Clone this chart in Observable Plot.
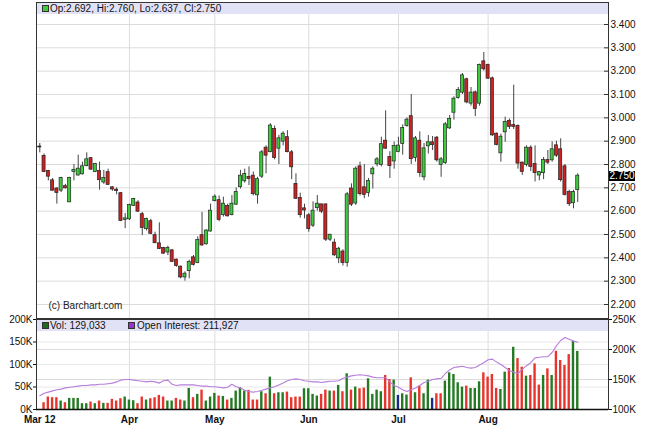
<!DOCTYPE html>
<html><head><meta charset="utf-8">
<script src="https://cdn.jsdelivr.net/npm/d3@7"></script>
<script src="https://cdn.jsdelivr.net/npm/@observablehq/plot@0.6"></script>
<style>
body{margin:0;background:#fff;}
#wrap{position:relative;width:645px;height:428px;overflow:hidden;font-family:"Liberation Sans",Arial,sans-serif;font-size:10px;color:#111;}
#topPanel,#botPanel{position:absolute;left:0;}
#botPanel{top:318px;}
.band{position:absolute;left:37px;width:571px;height:11px;background:#e2e2f6;line-height:11px;white-space:nowrap;}
.sw{position:absolute;top:2px;width:5px;height:5px;border:1px solid #333;}
.lab{position:absolute;top:0;}
#pbox{position:absolute;left:609px;width:26px;height:10px;background:#000;color:#fff;line-height:10px;text-align:center;font-size:10px;}
.bot g[aria-label="x-axis tick label"] text{font-weight:bold;}
</style></head>
<body><div id="wrap"><div id="topPanel"></div><div id="botPanel"></div></div>
<script>
// ---- data (trading days from early March to end of August 2012) ----
const open = [2.875,2.835,2.770,2.730,2.695,2.690,2.705,2.640,2.770,2.755,
 2.760,2.795,2.825,2.770,2.770,2.725,2.765,2.700,2.690,2.675,
 2.565,2.567,2.625,2.635,2.585,2.525,2.555,2.495,2.460,2.440,
 2.425,2.430,2.390,2.360,2.318,2.345,2.400,2.380,2.495,2.460,
 2.515,2.645,2.645,2.585,2.620,2.585,2.630,2.705,2.730,2.745,
 2.750,2.670,2.750,2.870,2.855,2.950,2.870,2.900,2.915,2.850,
 2.715,2.655,2.610,2.580,2.540,2.615,2.627,2.627,2.480,2.463,
 2.400,2.425,2.380,2.695,2.635,2.790,2.700,2.680,2.760,2.803,
 2.800,2.900,2.830,2.815,2.856,2.890,2.967,3.005,2.830,2.900,
 2.747,2.880,2.893,2.913,2.800,2.808,2.957,3.024,3.087,3.110,
 3.163,3.063,3.107,3.063,3.240,3.225,3.167,2.930,2.850,2.940,
 2.985,2.967,2.963,2.806,2.800,2.870,2.800,2.755,2.765,2.817,
 2.820,2.880,2.863,2.790,2.680,2.636,2.692];
const high = [2.890,2.845,2.775,2.740,2.700,2.745,2.715,2.745,2.800,2.840,
 2.810,2.850,2.830,2.805,2.810,2.775,2.780,2.705,2.700,2.680,
 2.590,2.630,2.655,2.645,2.595,2.570,2.565,2.510,2.550,2.445,
 2.450,2.435,2.395,2.365,2.340,2.390,2.410,2.490,2.595,2.520,
 2.630,2.670,2.665,2.660,2.630,2.667,2.700,2.775,2.780,2.790,
 2.768,2.745,2.860,2.880,2.975,2.965,2.925,2.940,2.945,2.860,
 2.760,2.677,2.630,2.590,2.640,2.667,2.630,2.630,2.500,2.480,
 2.445,2.435,2.680,2.717,2.790,2.810,2.800,2.740,2.790,2.830,
 2.917,3.030,2.855,2.896,2.917,2.970,3.000,3.100,2.920,2.940,
 2.890,2.924,2.920,2.920,2.830,2.980,3.010,3.090,3.130,3.190,
 3.170,3.130,3.115,3.230,3.280,3.230,3.175,2.935,2.930,3.003,
 2.995,3.140,2.970,2.810,2.880,2.880,2.880,2.770,2.830,2.860,
 2.897,2.900,2.910,2.800,2.690,2.690,2.760];
const low = [2.850,2.765,2.730,2.685,2.630,2.680,2.695,2.640,2.730,2.750,
 2.755,2.790,2.775,2.765,2.690,2.715,2.710,2.685,2.670,2.555,
 2.525,2.560,2.620,2.595,2.495,2.515,2.500,2.460,2.435,2.415,
 2.410,2.380,2.360,2.310,2.300,2.310,2.365,2.375,2.450,2.455,
 2.510,2.640,2.555,2.575,2.575,2.580,2.625,2.695,2.720,2.710,
 2.665,2.630,2.740,2.760,2.850,2.820,2.800,2.880,2.850,2.735,
 2.650,2.570,2.567,2.510,2.530,2.600,2.590,2.470,2.470,2.405,
 2.375,2.365,2.360,2.620,2.625,2.665,2.653,2.660,2.695,2.790,
 2.790,2.865,2.740,2.780,2.850,2.840,2.960,2.800,2.810,2.745,
 2.730,2.845,2.860,2.810,2.745,2.800,2.950,2.990,3.080,3.100,
 3.060,3.050,3.005,3.050,3.200,3.165,2.920,2.880,2.810,2.895,
 2.950,2.950,2.780,2.753,2.790,2.770,2.725,2.730,2.735,2.800,
 2.810,2.830,2.725,2.665,2.620,2.610,2.637];
const close = [2.875,2.770,2.750,2.690,2.680,2.740,2.700,2.740,2.775,2.780,
 2.790,2.820,2.780,2.800,2.735,2.740,2.715,2.695,2.688,2.560,
 2.567,2.625,2.650,2.600,2.530,2.565,2.505,2.465,2.440,2.420,
 2.440,2.385,2.367,2.318,2.330,2.380,2.372,2.475,2.455,2.515,
 2.600,2.660,2.565,2.630,2.580,2.630,2.680,2.750,2.757,2.740,
 2.675,2.735,2.850,2.840,2.965,2.830,2.910,2.930,2.855,2.790,
 2.655,2.585,2.605,2.525,2.600,2.630,2.600,2.480,2.497,2.413,
 2.437,2.380,2.670,2.630,2.780,2.675,2.672,2.727,2.780,2.820,
 2.885,2.870,2.795,2.877,2.879,2.955,2.990,2.825,2.910,2.765,
 2.867,2.893,2.885,2.820,2.820,2.970,2.993,3.080,3.117,3.180,
 3.068,3.106,3.040,3.225,3.210,3.170,2.927,2.886,2.917,2.980,
 2.963,2.963,2.806,2.770,2.870,2.791,2.765,2.765,2.817,2.810,
 2.863,2.840,2.735,2.672,2.632,2.680,2.750];
const volume = [null,15100,27700,26200,26200,18800,15100,24700,24700,24700,
 12900,12900,16600,12900,18800,13600,13600,22500,18800,24000,
 27700,21000,19500,12900,27700,21000,24000,26200,31300,27700,
 18800,18800,24700,21000,18800,46800,26200,33600,43100,18800,
 27700,35800,29900,29000,21000,24700,40900,48300,40900,42400,
 21000,21000,39500,35000,71900,35000,37200,37200,38700,26200,
 27700,27700,46100,46100,33600,29900,33600,43100,40900,40900,
 53500,39500,79300,43100,49800,46100,47600,68200,33600,43100,
 39500,75600,66700,65300,31300,35000,32100,70400,37200,52000,
 35000,65300,24700,35000,35000,63100,81500,77800,59400,49800,
 52000,46800,46800,61600,81500,71900,77800,46800,44500,83000,
 91100,138300,113200,94000,74100,75600,101400,54200,75600,90300,
 75600,129400,108800,97700,122000,151500,129033];
// u = up (green), d = down (red), n = unchanged (navy)
const volDir = ("n"+"dddduduuuu"+"udududdddu"+"uudduddddu"+"udduududuu"+"ududuuuudd"+
 "dududuuddd"+"duuuuddudu"+"dududduuuu"+"ddunuududu"+"undduuuuud"+
 "uuudddduud"+"uddudddudu"+"dddduu").split("");
const openInterest = [123,127,129,131,133,134,136,137,138,139,
 140,140,141,141,142,142,143,144,146,149,
 150,150,149,148,147,146,147,146,144,148,
 149,142,140,141,141,141,141,140,139,139,
 138,138,137,136,137,142,138,136,132,130,
 129,130,132,134,136,138,141,144,148,150,
 151,150,148,147,146,146,145,146,147,147,
 148,152,154,156,157,158,157,156,154,153,
 153,153,146,140,137,133,130,133,136,140,
 145,147,150,151,152,160,166,170,171,172,
 170,169,170,174,178,183,184,179,175,170,
 165,162,160,167,173,178,186,187,188,188,
 195,206,215,220,217,214,211.927].map(v => v * 1000);
const monthIdx = [0, 21, 41, 63, 84, 105];
const monthLabels = ["Mar 12", "Apr", "May", "Jun", "Jul", "Aug"];
const priceTicks = [2.2,2.3,2.4,2.5,2.6,2.7,2.8,2.9,3.0,3.1,3.2,3.3,3.4];
const volTicks = [0, 50000, 100000, 150000, 200000];
const oiTicks = [100000, 150000, 200000, 250000];
const credit = "(c) Barchart.com";

(function () {
// ---- tables ----
const candles = open.map((o, i) => ({i, open: o, high: high[i], low: low[i], close: close[i]}));
const volRows = volume.map((v, i) => ({i, v, dir: volDir[i]})).filter(d => d.v != null);
const oiRows = openInterest.map((oi, i) => ({i, oi}));
const labelOf = new Map(monthIdx.map((m, k) => [m, monthLabels[k]]));
const oiToVol = v => (v - 100000) * 4 / 3;
const volToOi = v => v * 3 / 4 + 100000;
const fmtK = d => Math.round(d / 1000) + "K";

const W = 645, ML = 36, MR = 37, FW = W - ML - MR;
const xDomain = [-0.77, 133.2];
const font = '"Liberation Sans", Arial, sans-serif';
const candleFill = d => d.close > d.open ? "#3ccc3c" : d.close < d.open ? "#cc2222" : "#222";
const volColor = {u: "#237a23", d: "#e8342c", n: "#1a2a8c"};

const topChart = Plot.plot({
  width: W, height: 319, marginLeft: ML, marginRight: MR, marginTop: 2, marginBottom: 1,
  style: {background: "transparent", fontFamily: font, fontSize: "10px", color: "#111", overflow: "visible"},
  x: {domain: xDomain, axis: null, label: null},
  y: {domain: [2.14, 3.4943], axis: null, label: null},
  marks: [
    Plot.gridY(priceTicks, {stroke: "#dcdcdc", strokeOpacity: 1}),
    Plot.gridX(monthIdx.slice(1), {stroke: "#dcdcdc", strokeOpacity: 1}),
    Plot.tickY(priceTicks, {y: d => d, insetLeft: FW - 4, stroke: "#333"}),
    Plot.axisY(priceTicks, {anchor: "right", label: null, tickSize: 0, tickPadding: 2, tickFormat: d3.format(".3f")}),
    Plot.ruleX(candles, {x: "i", y1: "low", y2: "high", stroke: "#444", strokeWidth: 1}),
    Plot.rect(candles, {x1: d => d.i - 0.36, x2: d => d.i + 0.36, y1: "open", y2: "close",
      fill: candleFill, stroke: "#222", strokeWidth: 0.7, insetTop: -0.5, insetBottom: -0.5}),
    Plot.text([credit], {text: d => d, frameAnchor: "bottom-left", dx: 12, dy: -13,
      textAnchor: "start", lineAnchor: "middle", fill: "#222"}),
    Plot.frame({stroke: "#333"})
  ]
});
document.getElementById("topPanel").appendChild(topChart);

const botChart = Plot.plot({
  className: "bot",
  width: W, height: 110, marginLeft: ML, marginRight: MR, marginTop: 1, marginBottom: 19,
  style: {background: "transparent", fontFamily: font, fontSize: "10px", color: "#111", overflow: "visible"},
  x: {domain: xDomain, axis: null, label: null},
  y: {domain: [0, 200000], axis: null, label: null},
  marks: [
    Plot.gridX(monthIdx.slice(1), {stroke: "#dcdcdc", strokeOpacity: 1}),
    Plot.gridY(oiTicks.slice(1, 3).map(oiToVol), {stroke: "#dcdcdc", strokeOpacity: 1}),
    Plot.gridY(volTicks.slice(1, 4), {stroke: "#e8e8e8", strokeOpacity: 1}),
    Plot.rectY(volRows, {x1: d => d.i - 0.28, x2: d => d.i + 0.28, y: "v", fill: d => volColor[d.dir]}),
    Plot.line(oiRows, {x: "i", y: d => oiToVol(d.oi), stroke: "#b77fdb", strokeWidth: 1.1}),
    Plot.axisY(volTicks, {anchor: "left", label: null, tickSize: 3, tickPadding: 1, tickFormat: fmtK}),
    Plot.axisY(oiTicks.map(oiToVol), {anchor: "right", label: null, tickSize: 3, tickPadding: 1, tickFormat: v => fmtK(volToOi(v))}),
    Plot.axisX(monthIdx, {anchor: "bottom", label: null, tickSize: 0, tickPadding: 6, tickFormat: d => labelOf.get(d), fontWeight: "bold"}),
    Plot.frame({stroke: "#333"}),
    Plot.ruleY([0], {stroke: "#111", strokeWidth: 1.5})
  ]
});
document.getElementById("botPanel").appendChild(botChart);

// ---- header bands / legends ----
const wrap = document.getElementById("wrap");
const f3 = d3.format(".3f"), fc = d3.format(",");
const last = candles[candles.length - 1];
function band(y, html) {
  const b = document.createElement("div");
  b.className = "band"; b.style.top = y + "px"; b.innerHTML = html;
  wrap.appendChild(b);
}
band(3, `<span class="sw" style="left:5px;background:#3ccc3c"></span><span class="lab" style="left:13px">Op:${f3(last.open)}, Hi:${f3(last.high)}, Lo:${f3(last.low)}, Cl:${f3(last.close)}</span>`);
band(320, `<span class="sw" style="left:5px;background:#1e6b1e"></span><span class="lab" style="left:13px">Vol: ${fc(volume[volume.length-1])}</span>` +
  `<span class="sw" style="left:91px;background:#9933cc"></span><span class="lab" style="left:100px">Open Interest: ${fc(Math.round(openInterest[openInterest.length-1]))}</span>`);
// last-price box on the right axis, placed through the y scale
const yPix = topChart.scale("y").apply(last.close);
const pb = document.createElement("div");
pb.id = "pbox"; pb.style.top = (yPix - 5) + "px"; pb.textContent = f3(last.close);
wrap.appendChild(pb);
})();
</script></body></html>
